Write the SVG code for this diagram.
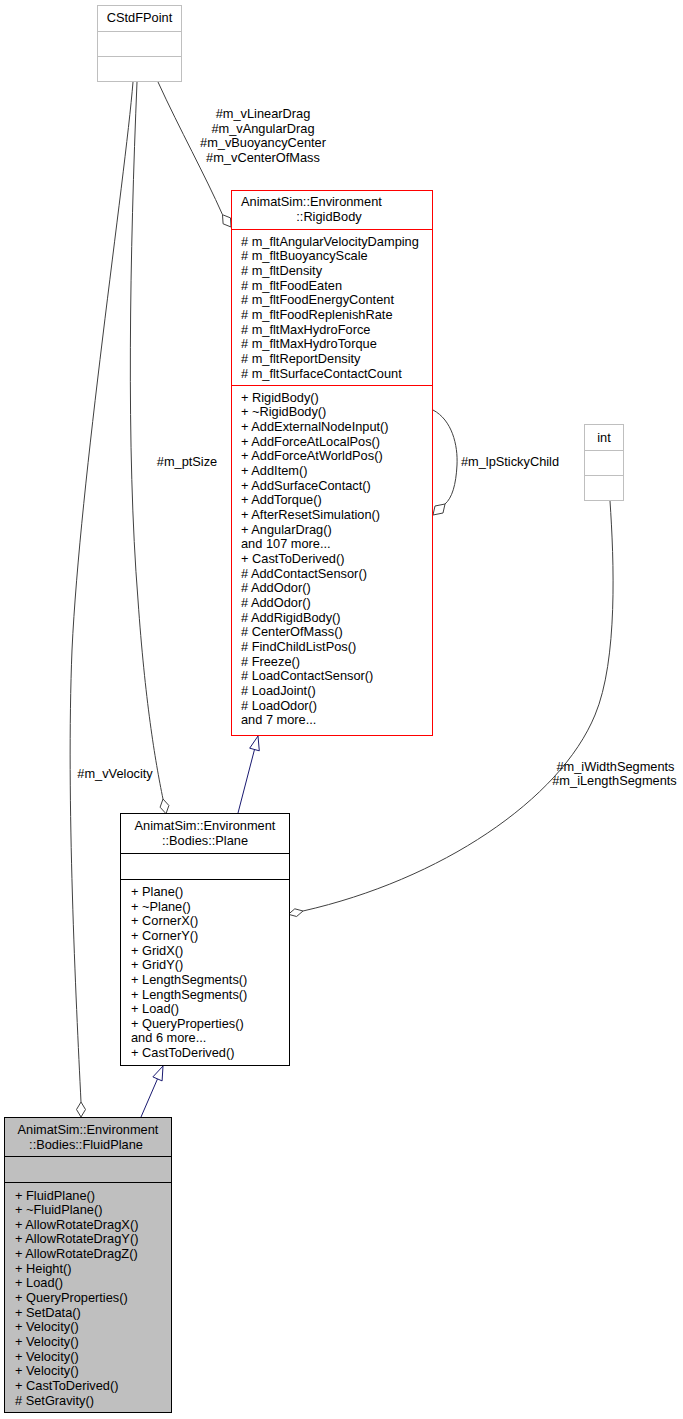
<svg xmlns="http://www.w3.org/2000/svg" width="683" height="1419" viewBox="0 0 683 1419">
<style>
text{font-family:"Liberation Sans",Arial,sans-serif;font-size:12.8px;fill:#000}
.c{text-anchor:middle}
.gbox{fill:#fff;stroke:#bfbfbf;stroke-width:1}
.rbox{fill:#fff;stroke:#ff0000;stroke-width:1}
.kbox{fill:#fff;stroke:#000;stroke-width:1}
.fbox{fill:#bfbfbf;stroke:#000;stroke-width:1}
.e{fill:none;stroke:#404040;stroke-width:1}
.dia{fill:#fff;stroke:#404040;stroke-width:1}
.inh{fill:none;stroke:#191970;stroke-width:1}
.tri{fill:#fff;stroke:#191970;stroke-width:1}
</style>
<rect width="683" height="1419" fill="#fff"/>
<g id="connectors">
  <path class="e" d="M133,82 C125,180 80,480 72,650 C66,800 76,1000 81,1102"/>
  <polygon class="dia" points="81,1102 85.5,1109.5 81,1117 76.5,1109.5"/>
  <text class="c" x="115" y="777.5">#m_vVelocity</text>
  <path class="e" d="M137,82 C130,250 126,450 138,600 C145,700 155,760 163,799"/>
  <polygon class="dia" points="163,799 168.9,805.5 166,813.7 160.1,807.2"/>
  <text class="c" x="187" y="466">#m_ptSize</text>
  <path class="e" d="M158,82 C180,130 205,175 222.5,214.7"/>
  <polygon class="dia" points="222.5,214.7 230.5,217.9 231,227 223.1,223.8"/>
  <text class="c" x="263" y="118">#m_vLinearDrag</text>
  <text class="c" x="263" y="132.5">#m_vAngularDrag</text>
  <text class="c" x="263" y="147">#m_vBuoyancyCenter</text>
  <text class="c" x="263" y="161.5">#m_vCenterOfMass</text>
  <path class="e" d="M433,410 C452,420 458,445 457,465 C456,485 452,498 445,504"/>
  <polygon class="dia" points="445,504 443,513 433,515 435,506"/>
  <text class="c" x="510" y="466">#m_lpStickyChild</text>
  <path class="e" d="M610,501 C614,560 618,660 595,715 C560,800 440,880 303,911"/>
  <polygon class="dia" points="303,911 294.8,908.8 288.4,914.3 296.6,916.5"/>
  <text class="c" x="615.5" y="770.5">#m_iWidthSegments</text>
  <text class="c" x="614.5" y="785">#m_iLengthSegments</text>
  <path class="inh" d="M238,813 L254.5,749.5"/>
  <polygon class="tri" points="258,736 259.3,750.8 249.7,748.2"/>
  <path class="inh" d="M141,1117 L157.5,1078.9"/>
  <polygon class="tri" points="163,1066 162.1,1080.9 152.9,1076.9"/>
</g>
<g id="CStdFPoint">
  <rect class="gbox" x="97.5" y="5.5" width="84" height="76"/>
  <line class="gbox" x1="97.5" y1="31.5" x2="181.5" y2="31.5"/>
  <line class="gbox" x1="97.5" y1="56.5" x2="181.5" y2="56.5"/>
  <text class="c" x="139.5" y="22">CStdFPoint</text>
</g>
<g id="int">
  <rect class="gbox" x="584.5" y="424.5" width="39" height="76"/>
  <line class="gbox" x1="584.5" y1="450.5" x2="623.5" y2="450.5"/>
  <line class="gbox" x1="584.5" y1="475.5" x2="623.5" y2="475.5"/>
  <text class="c" x="604" y="441.5">int</text>
</g>
<g id="RigidBody">
  <rect class="rbox" x="231.5" y="190.5" width="201" height="545"/>
  <line class="rbox" x1="231.5" y1="229.5" x2="432.5" y2="229.5"/>
  <line class="rbox" x1="231.5" y1="385.5" x2="432.5" y2="385.5"/>
  <text x="241" y="206">AnimatSim::Environment</text>
  <text class="c" x="329" y="221">::RigidBody</text>
  <text x="241" y="245.5"># m_fltAngularVelocityDamping</text>
  <text x="241" y="260.2"># m_fltBuoyancyScale</text>
  <text x="241" y="274.8"># m_fltDensity</text>
  <text x="241" y="289.5"># m_fltFoodEaten</text>
  <text x="241" y="304.2"># m_fltFoodEnergyContent</text>
  <text x="241" y="318.9"># m_fltFoodReplenishRate</text>
  <text x="241" y="333.5"># m_fltMaxHydroForce</text>
  <text x="241" y="348.2"># m_fltMaxHydroTorque</text>
  <text x="241" y="362.9"># m_fltReportDensity</text>
  <text x="241" y="377.5"># m_fltSurfaceContactCount</text>
  <text x="241" y="401.5">+ RigidBody()</text>
  <text x="241" y="416.2">+ ~RigidBody()</text>
  <text x="241" y="430.8">+ AddExternalNodeInput()</text>
  <text x="241" y="445.5">+ AddForceAtLocalPos()</text>
  <text x="241" y="460.2">+ AddForceAtWorldPos()</text>
  <text x="241" y="474.9">+ AddItem()</text>
  <text x="241" y="489.5">+ AddSurfaceContact()</text>
  <text x="241" y="504.2">+ AddTorque()</text>
  <text x="241" y="518.9">+ AfterResetSimulation()</text>
  <text x="241" y="533.5">+ AngularDrag()</text>
  <text x="241" y="548.2">and 107 more...</text>
  <text x="241" y="562.9">+ CastToDerived()</text>
  <text x="241" y="577.5"># AddContactSensor()</text>
  <text x="241" y="592.2"># AddOdor()</text>
  <text x="241" y="606.9"># AddOdor()</text>
  <text x="241" y="621.6"># AddRigidBody()</text>
  <text x="241" y="636.2"># CenterOfMass()</text>
  <text x="241" y="650.9"># FindChildListPos()</text>
  <text x="241" y="665.6"># Freeze()</text>
  <text x="241" y="680.2"># LoadContactSensor()</text>
  <text x="241" y="694.9"># LoadJoint()</text>
  <text x="241" y="709.6"># LoadOdor()</text>
  <text x="241" y="724.2">and 7 more...</text>
</g>
<g id="Plane">
  <rect class="kbox" x="120.5" y="813.5" width="169" height="252"/>
  <line class="kbox" x1="120.5" y1="853.5" x2="289.5" y2="853.5"/>
  <line class="kbox" x1="120.5" y1="879.5" x2="289.5" y2="879.5"/>
  <text class="c" x="205" y="829.5">AnimatSim::Environment</text>
  <text class="c" x="205" y="844.5">::Bodies::Plane</text>
  <text x="131" y="896">+ Plane()</text>
  <text x="131" y="910.6">+ ~Plane()</text>
  <text x="131" y="925.3">+ CornerX()</text>
  <text x="131" y="939.9">+ CornerY()</text>
  <text x="131" y="954.6">+ GridX()</text>
  <text x="131" y="969.2">+ GridY()</text>
  <text x="131" y="983.8">+ LengthSegments()</text>
  <text x="131" y="998.5">+ LengthSegments()</text>
  <text x="131" y="1013.1">+ Load()</text>
  <text x="131" y="1027.8">+ QueryProperties()</text>
  <text x="131" y="1042.4">and 6 more...</text>
  <text x="131" y="1057">+ CastToDerived()</text>
</g>
<g id="FluidPlane">
  <rect class="fbox" x="4.5" y="1117.5" width="167" height="295"/>
  <line class="fbox" x1="4.5" y1="1156.5" x2="171.5" y2="1156.5"/>
  <line class="fbox" x1="4.5" y1="1182.5" x2="171.5" y2="1182.5"/>
  <text class="c" x="88" y="1133.5">AnimatSim::Environment</text>
  <text class="c" x="86" y="1148.5">::Bodies::FluidPlane</text>
  <text x="15" y="1199.5">+ FluidPlane()</text>
  <text x="15" y="1214.1">+ ~FluidPlane()</text>
  <text x="15" y="1228.8">+ AllowRotateDragX()</text>
  <text x="15" y="1243.4">+ AllowRotateDragY()</text>
  <text x="15" y="1258.1">+ AllowRotateDragZ()</text>
  <text x="15" y="1272.7">+ Height()</text>
  <text x="15" y="1287.3">+ Load()</text>
  <text x="15" y="1302">+ QueryProperties()</text>
  <text x="15" y="1316.6">+ SetData()</text>
  <text x="15" y="1331.3">+ Velocity()</text>
  <text x="15" y="1345.9">+ Velocity()</text>
  <text x="15" y="1360.5">+ Velocity()</text>
  <text x="15" y="1375.2">+ Velocity()</text>
  <text x="15" y="1389.8">+ CastToDerived()</text>
  <text x="15" y="1404.5"># SetGravity()</text>
</g>
</svg>
